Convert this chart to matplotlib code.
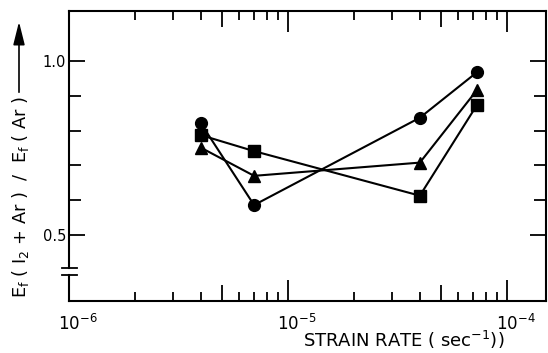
import numpy as np
import matplotlib.pyplot as plt
from matplotlib.ticker import FixedLocator, NullFormatter
from matplotlib.patches import FancyArrowPatch
import matplotlib.transforms as mtransforms

plt.rcParams['mathtext.default'] = 'regular'

# strain rate (sec^-1)
rate = [4.0e-6, 7.0e-6, 4.0e-5, 7.3e-5]
# Ef(I2+Ar)/Ef(Ar) for the three series
circles = [0.821, 0.586, 0.837, 0.968]
squares = [0.787, 0.741, 0.613, 0.874]
triangles = [0.751, 0.670, 0.708, 0.917]

xmajor = [1e-6, 1e-5, 1e-4]
xmajor_labels = ['$10^{-6}$', '$10^{-5}$', '$10^{-4}$']
xminor = [m * d for d in [1e-6, 1e-5] for m in range(2, 10)]
ymajor = [0.5, 1.0]
ymajor_labels = ['0.5', '1.0']
yminor = [0.6, 0.7, 0.8, 0.9]

W, H = 548, 353
fig = plt.figure(figsize=(W / 100, H / 100), dpi=100)
ax = fig.add_axes([69 / W, 1 - 301 / H, (546 - 69) / W, (301 - 11) / H])

ax.plot(rate, circles, color='k', lw=1.5, marker='o', ms=8.5, zorder=3)
ax.plot(rate, squares, color='k', lw=1.5, marker='s', ms=8, zorder=3)
ax.plot(rate, triangles, color='k', lw=1.5, marker='^', ms=9, zorder=3)

ax.set_xscale('log')
ax.set_xlim(1e-6, 1.507e-4)
ax.set_ylim(0.3103, 1.1437)

ax.xaxis.set_major_locator(FixedLocator(xmajor))
ax.set_xticklabels(xmajor_labels)
ax.xaxis.set_minor_locator(FixedLocator(xminor))
ax.xaxis.set_minor_formatter(NullFormatter())
ax.yaxis.set_major_locator(FixedLocator(ymajor))
ax.set_yticklabels(ymajor_labels)
ax.yaxis.set_minor_locator(FixedLocator(yminor))

ax.tick_params(which='both', direction='in', top=True, right=True, width=1.3, colors='k')
ax.tick_params(axis='x', which='major', length=15, labelsize=12, pad=9)
ax.tick_params(axis='x', which='minor', length=6.5)
ax.tick_params(axis='y', which='major', length=11.5, labelsize=10.5, pad=2)
ax.tick_params(axis='y', which='minor', length=8.5)

# longer minor tick at 5 x 10^n
for tick, loc in zip(ax.xaxis.get_minor_ticks(len(xminor)), xminor):
    if abs(loc / 10 ** np.floor(np.log10(loc)) - 5) < 1e-6:
        tick.tick1line.set_markersize(11.5)
        tick.tick2line.set_markersize(11.5)

# shift x tick labels a bit to the right like the original
off = mtransforms.ScaledTranslation(9 / 100, 0, fig.dpi_scale_trans)
for lab in ax.get_xticklabels():
    lab.set_transform(lab.get_transform() + off)

for s in ax.spines.values():
    s.set_linewidth(1.5)

# broken left axis
ax.spines['left'].set_visible(False)
yt = ax.get_yaxis_transform()
ax.plot([0, 0], [0.3103, 0.385], color='k', lw=1.5, transform=yt, clip_on=False)
ax.plot([0, 0], [0.405, 1.1437], color='k', lw=1.5, transform=yt, clip_on=False)
for yb in [0.385, 0.405]:
    ax.plot([-0.015, 0.017], [yb, yb], color='k', lw=1.3, transform=yt, clip_on=False)

fig.text(404 / W, 1 - 340 / H, 'STRAIN RATE ( sec$^{-1}$))', ha='center', va='center', fontsize=13)
fig.text(21 / W, 1 - 298 / H, 'E$_f$ ( I$_2$ + Ar )  /  E$_f$ ( Ar )', rotation=90,
         ha='center', va='bottom', fontsize=12.8)
fig.add_artist(FancyArrowPatch(posA=(19 / W, 1 - 95 / H), posB=(19 / W, 1 - 19 / H),
                               transform=fig.transFigure, color='k', lw=1.2,
                               arrowstyle='-|>,head_length=14,head_width=3.5'))

fig.savefig('out.png', dpi=100)
